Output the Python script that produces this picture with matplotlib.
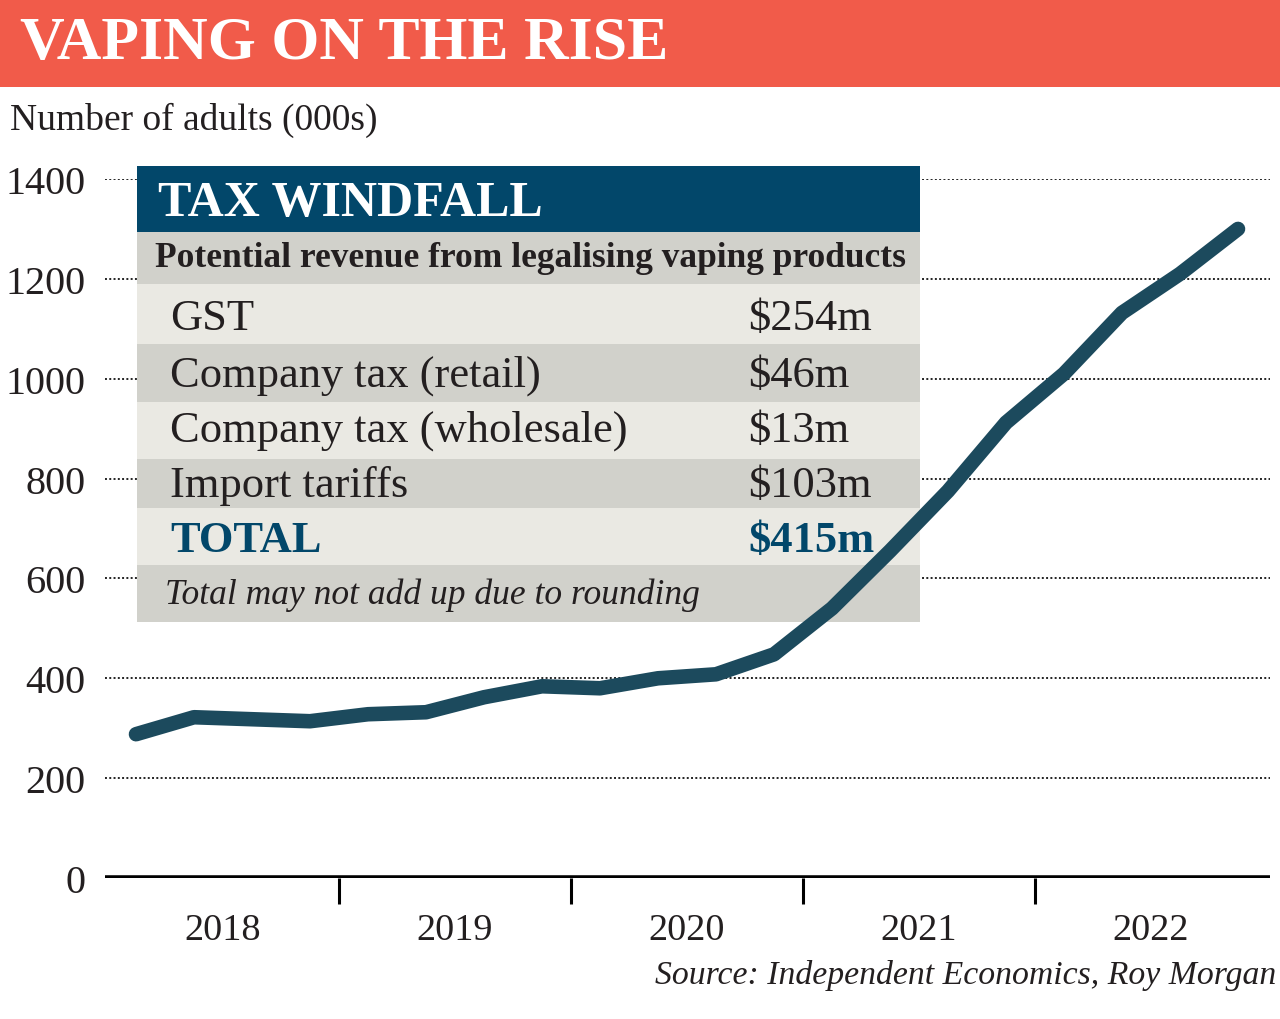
import matplotlib
matplotlib.use("Agg")
import matplotlib.pyplot as plt
from matplotlib.patches import Rectangle
from matplotlib.transforms import Affine2D
from matplotlib.ticker import FixedLocator, NullFormatter

plt.rcParams['font.family'] = ['Liberation Serif', 'DejaVu Serif']

# ---------------- data ----------------
years = [2018, 2019, 2020, 2021, 2022]
quarters = [f"{y} Q{q}" for y in years for q in range(1, 5)]
adults_000s = [288, 322, 318, 314, 328, 332, 362, 384, 380, 400,
               408, 448, 540, 655, 775, 912, 1010, 1132, 1210, 1300]
y_ticks = [0, 200, 400, 600, 800, 1000, 1200, 1400]

tax_items = ["GST", "Company tax (retail)", "Company tax (wholesale)", "Import tariffs"]
tax_values = ["$254m", "$46m", "$13m", "$103m"]
total_label, total_value = "TOTAL", "$415m"

title = "VAPING ON THE RISE"
y_label = "Number of adults (000s)"
table_title = "TAX WINDFALL"
table_subtitle = "Potential revenue from legalising vaping products"
table_note = "Total may not add up due to rounding"
source = "Source: Independent Economics, Roy Morgan"

# ---------------- colours ----------------
CORAL = "#F15B4A"
NAVY = "#02476A"
GREY = "#D1D1CB"
LIGHT = "#EAE9E3"
LINE = "#1C4A5D"
INK = "#231F20"

W, H = 1280, 1020
fig = plt.figure(figsize=(W / 100, H / 100), dpi=100)
px = Affine2D().scale(1 / W, -1 / H).translate(0, 1) + fig.transFigure

# main axes: pixel x 105..1270, y 180 (1400) .. 879 (0)
ax = fig.add_axes([105 / W, (H - 879) / H, (1270 - 105) / W, (879 - 180) / H])
ax.set_facecolor("none")
for s in ax.spines.values():
    s.set_visible(False)
x0 = 2018 - 2 / 232
ax.set_xlim(x0, x0 + (1270 - 105) / 232)
ax.set_ylim(0, 1400)

# x positions from quarter index (centre of each quarter)
xs = [years[0] + (i + 0.5) / 4 for i in range(len(quarters))]

# gridlines
for t in y_ticks[1:]:
    ax.axhline(t, color="#222222", lw=1.4, ls=(0, (1, 1.2)), zorder=1)
ax.axhline(0, color="black", lw=4, zorder=5, solid_capstyle="butt")

ax.set_yticks(y_ticks)
ax.set_yticklabels([str(t) for t in y_ticks], fontsize=29, color=INK)
ax.tick_params(axis="y", length=0, pad=14)

ax.xaxis.set_major_locator(FixedLocator([y + 0.5 for y in years]))
ax.set_xticklabels([str(y) for y in years], fontsize=27.5, color=INK)
ax.xaxis.set_minor_locator(FixedLocator(years[1:]))
ax.xaxis.set_minor_formatter(NullFormatter())
ax.tick_params(axis="x", which="major", length=0, pad=25)
ax.tick_params(axis="x", which="minor", direction="out", length=19, width=2.2, color="black")

# ---------------- table (pixel coordinates) ----------------
tl, tr = 137, 920
rows = [(167, 233, NAVY), (233, 285, GREY), (285, 345, LIGHT), (345, 403, GREY),
        (403, 460, LIGHT), (460, 509, GREY), (509, 566, LIGHT), (566, 623, GREY)]
for top, bot, col in rows:
    ax.add_patch(Rectangle((tl, bot), tr - tl, top - bot, transform=px,
                           facecolor=col, edgecolor="none", zorder=3, clip_on=False))

def ptext(x, y, s, **kw):
    ax.text(x, y, s, transform=px, zorder=4, clip_on=False, **kw)

ptext(158, 204, table_title, fontsize=36, fontweight="bold", color="white", va="center")
ptext(155, 259, table_subtitle, fontsize=25.5, fontweight="bold", color=INK, va="center")
row_centres = [319, 376, 431, 486]
for yc, lab, val in zip(row_centres, tax_items, tax_values):
    ptext(170, yc, lab, fontsize=32, color=INK, va="center")
    ptext(748, yc, val, fontsize=32, color=INK, va="center")
ptext(170, 541, total_label, fontsize=32, fontweight="bold", color=NAVY, va="center")
ptext(748, 541, total_value, fontsize=32, fontweight="bold", color=NAVY, va="center")
ptext(165, 595, table_note, fontsize=25.6, style="italic", color=INK, va="center")

# ---------------- line ----------------
ax.plot(xs, adults_000s, color=LINE, lw=10.5, solid_capstyle="round",
        solid_joinstyle="round", zorder=6, clip_on=False)

# ---------------- header / labels ----------------
fig.patches.append(Rectangle((0, 0), W, 88, transform=px, facecolor=CORAL,
                             edgecolor="none", zorder=0))
fig.text(20, 44, title, transform=px, fontsize=44.5, fontweight="bold",
         color="white", va="center", ha="left")
fig.text(10, 120, y_label, transform=px, fontsize=27, color=INK,
         va="center", ha="left")
fig.text(1276, 976, source, transform=px, fontsize=24.3, style="italic",
         color=INK, va="center", ha="right")

fig.savefig("out.png", dpi=100, facecolor="white")
